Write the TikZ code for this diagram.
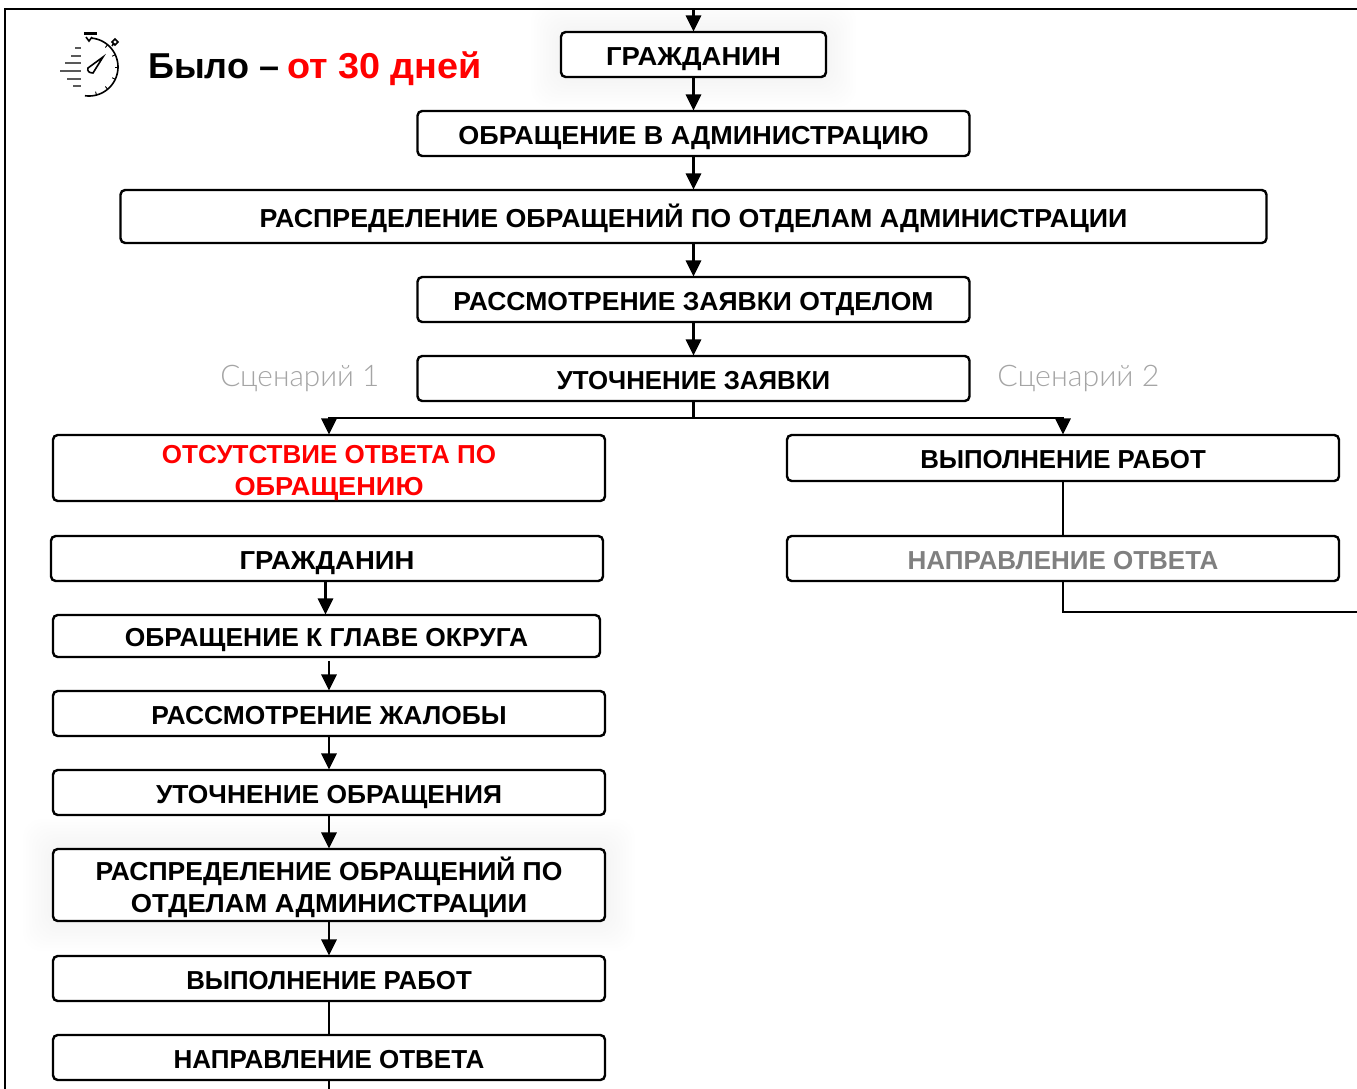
\documentclass[tikz,border=0pt]{standalone}
\usepackage{fontspec}
\setmainfont{Liberation Sans}
\newfontfamily\lightf{Lato Light}
\usetikzlibrary{arrows.meta}
\definecolor{grayt}{RGB}{128,128,128}
\definecolor{scen}{RGB}{165,165,165}
\newcommand\sx[2]{{\addfontfeature{FakeStretch=#1}#2}}
\tikzset{x=0.75pt,y=-0.75pt,
  box/.style={draw=black,line width=1.8pt,rounded corners=3.5pt,fill=white,align=center,inner sep=0pt,font=\bfseries\fontsize{19.5}{24}\selectfont,text=black},
  oneline/.style={text height=18pt,text depth=1.8pt},
  conn/.style={line width=1.7pt,draw=black},
  arr/.style={conn,-{Triangle[length=12pt,width=11.5pt]},shorten >=-0.5pt},
  frameline/.style={line width=2.2pt,draw=black},
  scenario/.style={font=\lightf\fontsize{22.3}{26}\selectfont,text=scen,inner sep=0pt},
  icon/.style={line width=1.2pt,draw=black}}
\newcommand\bx[7][]{%
  \pgfmathsetmacro\cxv{(#3+#5)/2}\pgfmathsetmacro\cyv{(#4+#6)/2}%
  \pgfmathsetmacro\wv{(#5-#3)*0.75}\pgfmathsetmacro\hv{(#6-#4)*0.75}%
  \node[box,minimum width=\wv pt,minimum height=\hv pt,#1] (#2) at (\cxv,\cyv) {#7};}
\newcommand\softshadow[4]{%
  \foreach \e in {3,6,...,30}{\fill[black,opacity=0.0045,rounded corners=14pt] (#1-\e,#2-\e) rectangle (#3+\e,#4+\e);}}
\begin{document}
\begin{tikzpicture}
\useasboundingbox (0,0) rectangle (1357,1089);
\fill[white] (0,0) rectangle (1357,1089);
\softshadow{561}{32}{826}{77}
\softshadow{53}{849}{605}{921}
\coordinate (tl) at (5,9);
\coordinate (tr) at (1357,9);
\coordinate (bl) at (5,1089);
\draw[frameline] (tr) -- (tl) -- (bl);
\bx[oneline]{a1}{561}{32}{826}{77}{\sx{1.055}{ГРАЖДАНИН}}
\bx[oneline]{a2}{417.5}{111}{969.5}{156}{\sx{1.038}{ОБРАЩЕНИЕ В АДМИНИСТРАЦИЮ}}
\bx[oneline]{a3}{120.5}{190}{1266.5}{243}{\sx{1.03}{РАСПРЕДЕЛЕНИЕ ОБРАЩЕНИЙ ПО ОТДЕЛАМ АДМИНИСТРАЦИИ}}
\bx[oneline]{a4}{417.5}{277}{969.5}{322}{\sx{1.02}{РАССМОТРЕНИЕ ЗАЯВКИ ОТДЕЛОМ}}
\bx[oneline]{a5}{417.5}{356}{969.5}{401}{\sx{0.993}{УТОЧНЕНИЕ ЗАЯВКИ}}
\bx[text=red]{b0}{53}{435}{605}{501}{\rule{0pt}{21pt}ОТСУТСТВИЕ ОТВЕТА ПО\\\sx{1.045}{ОБРАЩЕНИЮ}}
\bx[oneline]{c1}{787}{435}{1339}{481}{\sx{0.993}{ВЫПОЛНЕНИЕ РАБОТ}}
\bx[oneline,text=grayt]{c2}{787}{536}{1339}{581}{НАПРАВЛЕНИЕ ОТВЕТА}
\bx[oneline]{b1}{51}{536}{603}{581}{\sx{1.055}{ГРАЖДАНИН}}
\bx[oneline]{b2}{53}{615}{600}{657}{\sx{1.015}{ОБРАЩЕНИЕ К ГЛАВЕ ОКРУГА}}
\bx[oneline]{b3}{53}{691}{605}{736}{\sx{1.015}{РАССМОТРЕНИЕ ЖАЛОБЫ}}
\bx[oneline]{b4}{53}{770}{605}{815}{\sx{1.015}{УТОЧНЕНИЕ ОБРАЩЕНИЯ}}
\bx{b5}{53}{849}{605}{921}{\rule{0pt}{21.5pt}\sx{1.02}{РАСПРЕДЕЛЕНИЕ ОБРАЩЕНИЙ ПО}\\\sx{1.05}{ОТДЕЛАМ АДМИНИСТРАЦИИ}}
\bx[oneline]{b6}{53}{956}{605}{1001}{\sx{0.993}{ВЫПОЛНЕНИЕ РАБОТ}}
\bx[oneline]{b7}{53}{1035}{605}{1080}{НАПРАВЛЕНИЕ ОТВЕТА}
% connectors
\coordinate (in) at (693.5,9);
\coordinate (junc) at (693.5,418);
\coordinate (outr) at (1063,612);
\coordinate (outre) at (1357,612);
\coordinate (outl) at (329,1089);
\draw[arr] (in) -- (a1.north);
\draw[arr] (a1.south) -- (a2.north);
\draw[arr] (a2.south) -- (a3.north);
\draw[arr] (a3.south) -- (a4.north);
\draw[arr] (a4.south) -- (a5.north);
\draw[conn] (a5.south) -- (junc);
\draw[arr] (junc) -| (b0.north);
\draw[arr] (junc) -| (c1.north);
\draw[conn] (c1.south) -- (c2.north);
\draw[conn] (c2.south) -- (outr) -- (outre);
\draw[arr] ([xshift=-0.75pt]b2.north |- b1.south) -- ([xshift=-0.75pt]b2.north);
\draw[arr] ([yshift=21.75pt]b3.north) -- (b3.north);
\draw[arr] (b3.south) -- (b4.north);
\draw[arr] (b4.south) -- (b5.north);
\draw[arr] (b5.south) -- (b6.north);
\draw[conn] (b6.south) -- (b7.north);
\draw[conn] (b7.south) -- (outl);
% labels
\node[scenario,anchor=west] (s1) at (220,378) {Сценарий 1};
\node[scenario,anchor=west] (s2) at (997,378) {\sx{1.02}{Сценарий 2}};
\node[anchor=west,inner sep=0pt,font=\bfseries\fontsize{27}{32}\selectfont] (title) at (148,68.5) {Было – \kern-1.5pt\textcolor{red}{\sx{1.05}{от 30 дней}}};
% stopwatch
\draw[icon] plot[domain=-85:98,samples=60] ({89+29*cos(\x)},{67+29*sin(\x)});
\draw[icon,line width=2pt] (84,33.5) -- (97,33.5);
\draw[icon] (86,37) -- (89,41) -- (92,37);
\draw[icon] (112,46) -- (114,43);
\draw[icon] (115,39) -- (118,42) -- (115,45) -- (112,42) -- cycle;
\draw[icon] (103,57) -- (93,73) .. controls (89,73) and (87,71) .. (88,68) -- cycle;
\foreach \y/\xa in {48/75,56/71,63/65,71/60,79/67,86/73}{\draw[icon,line width=1.1pt,gray!70!black] (\xa,\y) -- (81,\y);}
\foreach \ang in {-50,-25,0,25,50,75}{\draw[icon,line width=0.7pt] ({89+29*cos(\ang)},{67+29*sin(\ang)}) -- ({89+25.5*cos(\ang)},{67+25.5*sin(\ang)});}
\end{tikzpicture}
\end{document}
